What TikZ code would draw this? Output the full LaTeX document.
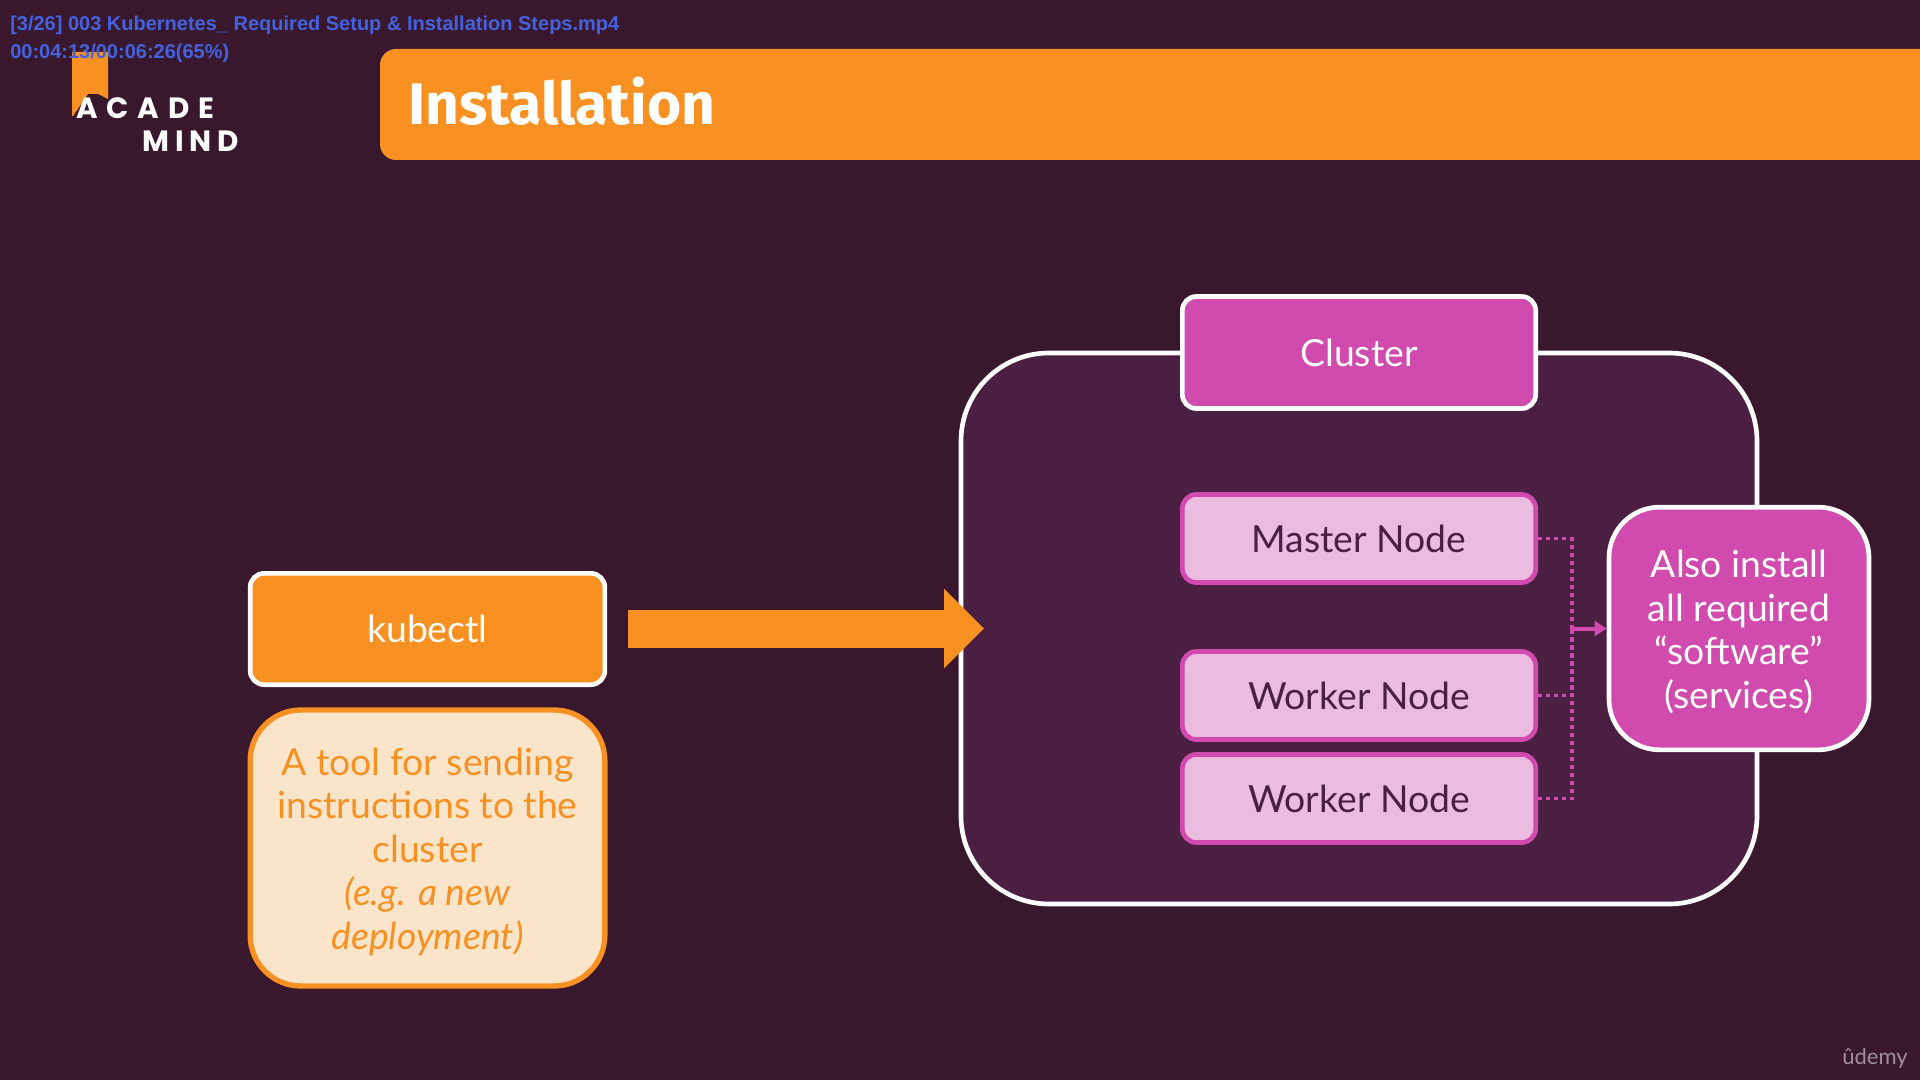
\documentclass[tikz,border=0pt]{standalone}
\usepackage{fontspec}
\usetikzlibrary{arrows.meta}
\setmainfont{Lato}
\newfontfamily\titlefont{Fira Sans}
\newfontfamily\playerfont{Liberation Sans}
\newfontfamily\logofont[LetterSpace=30]{Poppins}
\newfontfamily\logofontb[LetterSpace=20]{Poppins}
\newcommand{\topstrut}{\rule{0pt}{26pt}}
\definecolor{bgdark}{RGB}{57,23,45}
\definecolor{clusterfill}{RGB}{75,31,66}
\definecolor{mindorange}{RGB}{248,145,33}
\definecolor{mindpink}{RGB}{209,74,173}
\definecolor{lightpink}{RGB}{235,187,224}
\definecolor{lightorange}{RGB}{250,229,203}
\definecolor{playerblue}{RGB}{66,98,224}
\tikzset{
  bodytext/.style={font=\fontsize{28}{32.6}\selectfont,align=center},
  whitebox/.style={draw=white,line width=3.5pt,rounded corners=10.5pt,bodytext},
  nodebox/.style={draw=mindpink,line width=3.5pt,fill=lightpink,text=clusterfill,rounded corners=10.5pt,
    minimum width=265pt,minimum height=66pt,bodytext},
  dotline/.style={draw=mindpink,line width=2.6pt,dash pattern={on 3pt off 3pt}},
  playertext/.style={anchor=west,inner sep=0pt,text=playerblue,font=\playerfont\bfseries\fontsize{15}{18}\selectfont},
}
\begin{document}
\begin{tikzpicture}[x=0.75pt,y=0.75pt,yscale=-1,xscale=1]
\useasboundingbox (0,0) rectangle (1920,1080);
\fill [bgdark] (0,0) rectangle (1920,1080);

% logo
\fill [mindorange] (72,52) -- (108,52) -- (108,99) -- (98,94) -- (88,94) -- (73,116) -- (72,116) -- cycle;
\node (logoacade) [anchor=west,inner sep=0pt,text=white,font=\logofont\bfseries\fontsize{22}{24}\selectfont] at (76,108) {ACADE};
\node (logomind) [anchor=west,inner sep=0pt,text=white,font=\logofontb\bfseries\fontsize{22}{24}\selectfont] at (142,141) {MIND};

% player overlay
\node (filename) [playertext] at (10,25) {[3/26] 003 Kubernetes\_ Required Setup \& Installation Steps.mp4};
\node (timecode) [playertext] at (10,53) {00:04:13/00:06:26(65\%)};

% header bar
\fill [mindorange,rounded corners=12pt] (1920,49) -- (380,49) -- (380,160) -- (1920,160);
\node (title) [anchor=west,inner sep=0pt,text=white,font=\titlefont\bfseries\fontsize{44}{48}\selectfont] at (408,101.5) {Installation};

% cluster
\draw [draw=white,line width=3.5pt,fill=clusterfill,rounded corners=66pt] (961,353) rectangle (1757,904);
\node (cluster) [whitebox,fill=mindpink,text=white,minimum width=265pt,minimum height=84pt] at (1359,352.5) {Cluster};
\node (master) [nodebox] at (1359,538.5) {Master Node};
\node (workera) [nodebox] at (1359,695.5) {Worker Node};
\node (workerb) [nodebox] at (1359,798.5) {Worker Node};
\node (software) [whitebox,fill=mindpink,text=white,rounded corners=38pt,minimum width=195pt,minimum height=182pt] at (1739,628.5) {\topstrut Also install\\all required\\“software”\\(services)};

% dotted links
\coordinate (junction) at (1572,628.5);
\draw [dotline] (master.east) -| (junction);
\draw [dotline] (workera.east) -| (junction);
\draw [dotline] (workerb.east) -| (junction);
\draw [draw=mindpink,line width=3pt,-{Triangle[length=9pt,width=11pt]}] (junction) -- (software.west);

% kubectl
\node (kubectl) [whitebox,fill=mindorange,text=white,minimum width=266pt,minimum height=83.5pt] at (427.5,629) {kubectl};
\node (tool) [draw=mindorange,line width=4pt,fill=lightorange,text=mindorange,rounded corners=38pt,bodytext,
  minimum width=266pt,minimum height=207pt] at (427.5,848) {\topstrut A tool for sending\\instructions to the\\cluster\\{\itshape (e.g. a new}\\{\itshape deployment)}};

% big arrow
\coordinate (arrowstart) at (628,628.5);
\coordinate (arrowend) at (984,628.5);
\draw [draw=mindorange,line width=28.5pt,-{Triangle[length=30pt,width=58pt]}] (arrowstart) -- (arrowend);

\node (udemy) [anchor=east,inner sep=0pt,text={rgb,255:red,160;green,143;blue,158},font=\fontsize{16.5}{18}\selectfont] at (1908,1058) {ûdemy};
\end{tikzpicture}
\end{document}
